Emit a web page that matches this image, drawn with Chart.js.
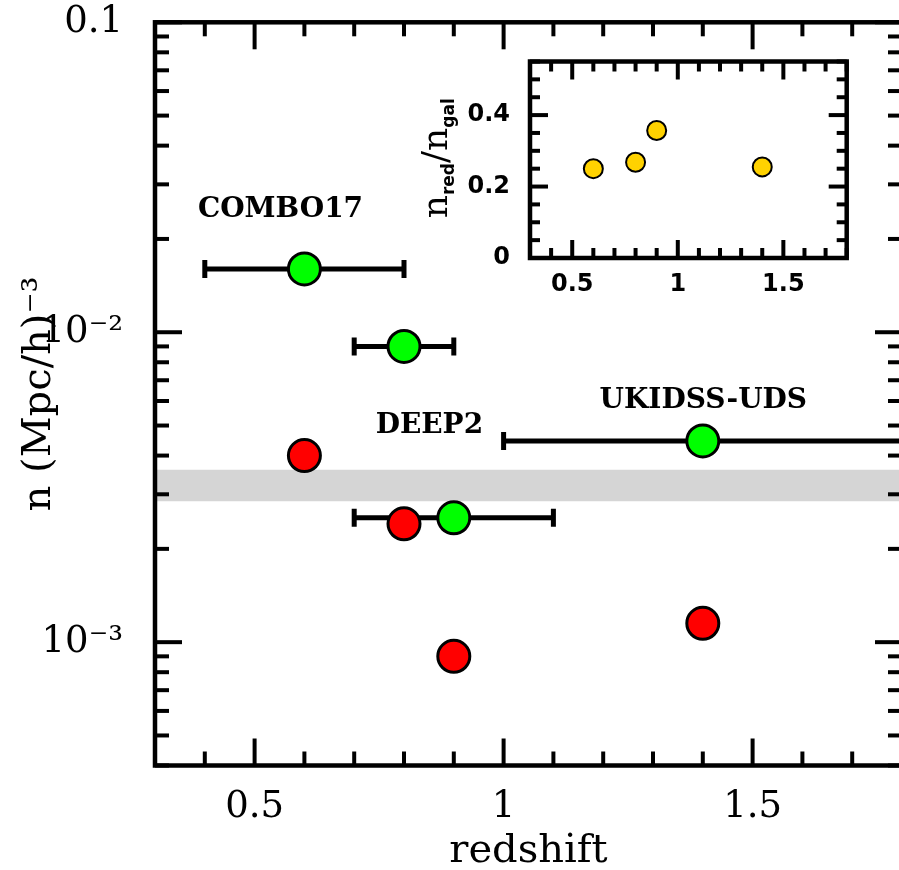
<!DOCTYPE html>
<html><head><meta charset="utf-8">
<script src="https://cdn.jsdelivr.net/npm/chart.js@4.4.0/dist/chart.umd.min.js"></script>
<style>
html,body{margin:0;padding:0;background:#fff;overflow:hidden;width:899px;height:870px;}
#wrap{position:relative;width:899px;height:870px;overflow:hidden;background:#fff;}
#main{position:absolute;left:0;top:0;}
#inset{position:absolute;left:420px;top:50px;}
</style></head><body>
<div id="wrap">
<canvas id="main" width="921" height="870"></canvas>
<canvas id="inset" width="440" height="260"></canvas>
</div>
<script>
// ---- data ----
const redshiftRed   = [0.6, 0.8, 0.9, 1.4];
const densityRed    = [0.0040, 0.00241, 0.00090, 0.00115];
const redshiftGreen = [0.6, 0.8, 0.9, 1.4];
const densityGreen  = [0.0160, 0.0090, 0.00252, 0.00446];
const zLow  = [0.4, 0.7, 0.7, 1.0];
const zHigh = [0.8, 0.9, 1.1, 2.0];
const bandX = [0.3, 1.8];
const bandLow = 0.00285;
const bandHigh = 0.0036;
const surveyNames  = ['COMBO17', 'DEEP2', 'UKIDSS-UDS'];
const surveyLabelX = [0.552, 0.851, 1.401];
const surveyLabelY = [0.0248, 0.0050, 0.00603];
const fracX   = [0.6, 0.8, 0.9, 1.4];
const fracRed = [0.250, 0.268, 0.357, 0.255];
const xMajorTicks = [0.5, 1, 1.5];
const xTickLabels = ['0.5', '1', '1.5'];
const yMajorTicks = [0.001, 0.01, 0.1];
const yTickLabels = ['10⁻³', '10⁻²', '0.1'];
const insetYTicks = [0, 0.2, 0.4];
const insetYTickLabels = ['0', '0.2', '0.4'];
const insetTitleParts = [['n', false], ['red', true], ['/', false], ['n', false], ['gal', true]];

// tick mark lists (positions only)
function xTickMarks() { const t = []; for (let i = 3; i <= 18; i++) t.push([i / 10, i % 5 === 0]); return t; }
function yLogTickMarks(min, max) { const t = []; for (let d = -4; d <= -1; d++) for (let k = 1; k <= 9; k++) { const v = k * Math.pow(10, d); if (v >= min * 0.999 && v <= max * 1.001) t.push([v, k === 1]); } return t; }
function yLinTickMarks() { const t = []; for (let i = 0; i <= 11; i++) t.push([i * 0.05, i % 4 === 0]); return t; }
function noPad(s) { s.paddingTop = 0; s.paddingBottom = 0; s.paddingLeft = 0; s.paddingRight = 0; }

const frameTicks = {
  id: 'frameTicks',
  afterDatasetsDraw(chart, args, o) {
    const { ctx, chartArea: a, scales } = chart;
    ctx.save();
    ctx.strokeStyle = '#000';
    ctx.lineCap = 'butt';
    ctx.lineWidth = o.tickWidth;
    const seg = (x1, y1, x2, y2) => { ctx.beginPath(); ctx.moveTo(x1, y1); ctx.lineTo(x2, y2); ctx.stroke(); };
    o.xTicks.forEach(([v, major]) => {
      const p = scales.x.getPixelForValue(v); const L = major ? o.major : o.minor;
      seg(p, a.bottom, p, a.bottom - L); seg(p, a.top, p, a.top + L);
    });
    o.yTicks.forEach(([v, major]) => {
      const p = scales.y.getPixelForValue(v); const L = major ? o.major : o.minor;
      seg(a.left, p, a.left + L, p); seg(a.right, p, a.right - L, p);
    });
    ctx.lineWidth = o.frameWidth;
    ctx.strokeRect(a.left, a.top, a.right - a.left, a.bottom - a.top);
    ctx.restore();
  }
};

const surveyLabels = {
  id: 'surveyLabels',
  afterDatasetsDraw(chart) {
    const { ctx, scales } = chart;
    ctx.save();
    ctx.fillStyle = '#000';
    ctx.font = 'bold 28px "DejaVu Serif"';
    ctx.textAlign = 'center';
    ctx.textBaseline = 'middle';
    surveyNames.forEach((n, i) => {
      ctx.fillText(n, scales.x.getPixelForValue(surveyLabelX[i]), scales.y.getPixelForValue(surveyLabelY[i]));
    });
    ctx.restore();
  }
};

// ---- main chart ----
const datasets = [];
datasets.push({
  data: redshiftGreen.map((x, i) => ({ x, y: densityGreen[i] })),
  showLine: false, pointRadius: 16, pointBackgroundColor: '#00ff00',
  pointBorderColor: '#000', pointBorderWidth: 3, order: 0
});
datasets.push({
  data: redshiftRed.map((x, i) => ({ x, y: densityRed[i] })),
  showLine: false, pointRadius: 16, pointBackgroundColor: '#ff0000',
  pointBorderColor: '#000', pointBorderWidth: 3, order: 0
});
redshiftGreen.forEach((x, i) => {
  datasets.push({
    data: [{ x: zLow[i], y: densityGreen[i] }, { x: zHigh[i], y: densityGreen[i] }],
    showLine: true, borderColor: '#000', borderWidth: 5, fill: false,
    pointStyle: 'line', pointRadius: 9, pointRotation: 90,
    pointBorderColor: '#000', pointBorderWidth: 5, order: 1
  });
});
datasets.push({
  data: bandX.map(x => ({ x, y: bandLow })),
  showLine: true, borderWidth: 0, borderColor: 'rgba(0,0,0,0)', pointRadius: 0,
  fill: { value: bandHigh }, backgroundColor: '#d5d5d5', order: 2
});

new Chart(document.getElementById('main'), {
  type: 'line',
  data: { datasets },
  options: {
    responsive: false, animation: false, events: [],
    layout: { padding: { left: 0, top: 22.3, right: 3.5, bottom: 0 } },
    plugins: {
      legend: { display: false }, tooltip: { enabled: false },
      frameTicks: { xTicks: xTickMarks(), yTicks: yLogTickMarks(4e-4, 0.1), major: 27, minor: 14, tickWidth: 4, frameWidth: 4.5 }
    },
    scales: {
      x: {
        type: 'linear', min: 0.3, max: 1.8,
        grid: { display: false }, border: { display: false },
        afterBuildTicks: s => { s.ticks = xMajorTicks.map(v => ({ value: v })); },
        ticks: { callback: (v, i) => xTickLabels[i], font: { family: 'DejaVu Serif', size: 37 }, color: '#000', padding: 12, maxRotation: 0, autoSkip: false },
        title: { display: true, text: 'redshift', color: '#000', font: { family: 'DejaVu Serif', size: 40, lineHeight: 0.8 }, padding: { top: 0, bottom: 2 } },
        afterFit: s => { s.height = 104.5; noPad(s); }
      },
      y: {
        type: 'logarithmic', min: 4e-4, max: 0.1,
        grid: { display: false }, border: { display: false },
        afterBuildTicks: s => { s.ticks = yMajorTicks.map(v => ({ value: v })); },
        ticks: { callback: (v, i) => yTickLabels[i], font: { family: 'DejaVu Serif', size: 37 }, color: '#000', padding: 24, autoSkip: false },
        title: { display: true, text: 'n (Mpc/h)⁻³', color: '#000', font: { family: 'DejaVu Serif', size: 40, lineHeight: 1.2 }, padding: { top: 16, bottom: 0 } },
        afterFit: s => { s.width = 155; noPad(s); }
      }
    }
  },
  plugins: [frameTicks, surveyLabels]
});

// ---- inset ----
const insetTitle = {
  id: 'insetTitle',
  afterDraw(chart) {
    const { ctx, chartArea: a } = chart;
    const cy = (a.top + a.bottom) / 2 - 1.5;
    const big = '36px "DejaVu Serif"', small = 'bold 17px "DejaVu Sans"';
    ctx.save();
    ctx.translate(27, cy);
    ctx.rotate(-Math.PI / 2);
    ctx.fillStyle = '#000';
    ctx.textBaseline = 'alphabetic';
    ctx.textAlign = 'left';
    const w = insetTitleParts.map(([t, sub]) => { ctx.font = sub ? small : big; return ctx.measureText(t).width; });
    let x = -w.reduce((p, q) => p + q, 0) / 2;
    insetTitleParts.forEach(([t, sub], i) => { ctx.font = sub ? small : big; ctx.fillText(t, x, sub ? 7 : 0); x += w[i]; });
    ctx.restore();
  }
};

new Chart(document.getElementById('inset'), {
  type: 'line',
  data: {
    datasets: [{
      data: fracX.map((x, i) => ({ x, y: fracRed[i] })),
      showLine: false, pointRadius: 9.5, pointBackgroundColor: '#ffd200',
      pointBorderColor: '#000', pointBorderWidth: 2
    }]
  },
  options: {
    responsive: false, animation: false, events: [],
    layout: { padding: { left: 0, top: 10.7, right: 13.3, bottom: 0 } },
    plugins: {
      legend: { display: false }, tooltip: { enabled: false },
      frameTicks: { xTicks: xTickMarks(), yTicks: yLinTickMarks(), major: 18, minor: 10, tickWidth: 4, frameWidth: 4.5 }
    },
    scales: {
      x: {
        type: 'linear', min: 0.3, max: 1.8,
        grid: { display: false }, border: { display: false },
        afterBuildTicks: s => { s.ticks = xMajorTicks.map(v => ({ value: v })); },
        ticks: { callback: (v, i) => xTickLabels[i], font: { family: 'DejaVu Sans', size: 24, weight: 'bold' }, color: '#000', padding: 4, maxRotation: 0, autoSkip: false },
        afterFit: s => { s.height = 52; noPad(s); }
      },
      y: {
        type: 'linear', min: 0, max: 0.55,
        grid: { display: false }, border: { display: false },
        afterBuildTicks: s => { s.ticks = insetYTicks.map(v => ({ value: v })); },
        ticks: { callback: (v, i) => insetYTickLabels[i], font: { family: 'DejaVu Sans', size: 24, weight: 'bold' }, color: '#000', padding: 12, autoSkip: false },
        afterFit: s => { s.width = 110; noPad(s); }
      }
    }
  },
  plugins: [frameTicks, insetTitle]
});
</script>
</body></html>
